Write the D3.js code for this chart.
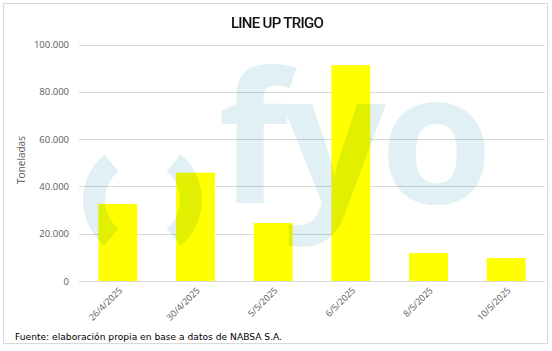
<!DOCTYPE html>
<html>
<head>
<meta charset="utf-8">
<script src="https://cdn.jsdelivr.net/npm/d3@7"></script>
<style>
  body { margin: 0; background: #fff; }
  svg { display: block; }
</style>
</head>
<body>
<script>
// datos del line up
var fechas = ['26/4/2025', '30/4/2025', '5/5/2025', '6/5/2025', '8/5/2025', '10/5/2025'];
var toneladas = [32600, 45800, 24500, 91300, 11800, 9700];
var yTicks = [0, 20000, 40000, 60000, 80000, 100000];

var width = 552;
var height = 351;

var svg = d3.select('body').append('svg')
  .attr('width', width)
  .attr('height', height);

svg.append('rect')
  .attr('x', 3.5).attr('y', 3.5)
  .attr('width', 544).attr('height', 340)
  .attr('fill', '#fff')
  .attr('stroke', '#d9d9d9');

var xScale = d3.scaleBand()
  .domain(fechas)
  .range([79, 545])
  .paddingInner(0.5)
  .paddingOuter(0.25);

var yScale = d3.scaleLinear()
  .domain([0, 100000])
  .range([281, 44.5]);

var fmt = function(d) {
  return d3.format(',')(d).replace(/,/g, '.');
};

// grid
svg.append('g')
  .selectAll('line')
  .data(yTicks)
  .enter().append('line')
    .attr('x1', 79)
    .attr('x2', 545)
    .attr('y1', function(d) { return Math.round(yScale(d)) + 0.5; })
    .attr('y2', function(d) { return Math.round(yScale(d)) + 0.5; })
    .attr('stroke', '#d9d9d9');

// eje y
var yAxis = svg.append('g')
  .attr('transform', 'translate(79,0)')
  .call(d3.axisLeft(yScale).tickValues(yTicks).tickSize(0).tickPadding(10).tickFormat(fmt));
yAxis.select('.domain').remove();
yAxis.selectAll('text')
  .attr('fill', '#595959')
  .style('font-family', 'Open Sans')
  .style('font-size', '9.5px');

// barras
svg.append('g')
  .selectAll('rect')
  .data(toneladas)
  .enter().append('rect')
    .attr('x', function(d, i) { return xScale(fechas[i]); })
    .attr('y', function(d) { return yScale(d); })
    .attr('width', xScale.bandwidth())
    .attr('height', function(d) { return yScale(0) - yScale(d); })
    .attr('fill', '#ffff00');

// eje x
var xAxis = svg.append('g')
  .attr('transform', 'translate(0,281)')
  .call(d3.axisBottom(xScale).tickSize(0).tickPadding(0));
xAxis.select('.domain').remove();
xAxis.selectAll('text')
  .attr('fill', '#595959')
  .style('font-family', 'Open Sans')
  .style('font-size', '9px')
  .attr('text-anchor', 'end')
  .attr('dy', 0)
  .attr('transform', 'translate(5,10) rotate(-45)');

// marca de agua fyo
var wm = svg.append('g')
  .style('mix-blend-mode', 'multiply')
  .attr('fill', '#e1f0f5');

var arco = d3.arc().innerRadius(37.5).outerRadius(59.5);
wm.append('path')
  .attr('transform', 'translate(142.5,200)')
  .attr('d', arco({startAngle: -140 * Math.PI / 180, endAngle: -40 * Math.PI / 180}));
wm.append('path')
  .attr('transform', 'translate(142.5,200)')
  .attr('d', arco({startAngle: 40 * Math.PI / 180, endAngle: 140 * Math.PI / 180}));
wm.append('text')
  .attr('x', 218)
  .attr('y', 203)
  .style('font-family', 'Open Sans')
  .style('font-weight', 700)
  .style('font-size', '182px')
  .style('letter-spacing', '-6px')
  .text('fyo');

// titulos
svg.append('text')
  .attr('x', 277)
  .attr('y', 28)
  .attr('text-anchor', 'middle')
  .style('font-family', 'Roboto')
  .style('font-weight', 500)
  .style('font-size', '15px')
  .style('letter-spacing', '-0.7px')
  .attr('fill', '#111')
  .text('LINE UP TRIGO');

svg.append('text')
  .attr('transform', 'translate(25,160) rotate(-90)')
  .attr('text-anchor', 'middle')
  .style('font-family', 'Open Sans')
  .style('font-size', '10px')
  .attr('fill', '#595959')
  .text('Toneladas');

svg.append('text')
  .attr('x', 15)
  .attr('y', 340)
  .style('font-family', 'DejaVu Sans')
  .style('font-size', '9.15px')
  .attr('fill', '#000')
  .text('Fuente: elaboración propia en base a datos de NABSA S.A.');
</script>
</body>
</html>
